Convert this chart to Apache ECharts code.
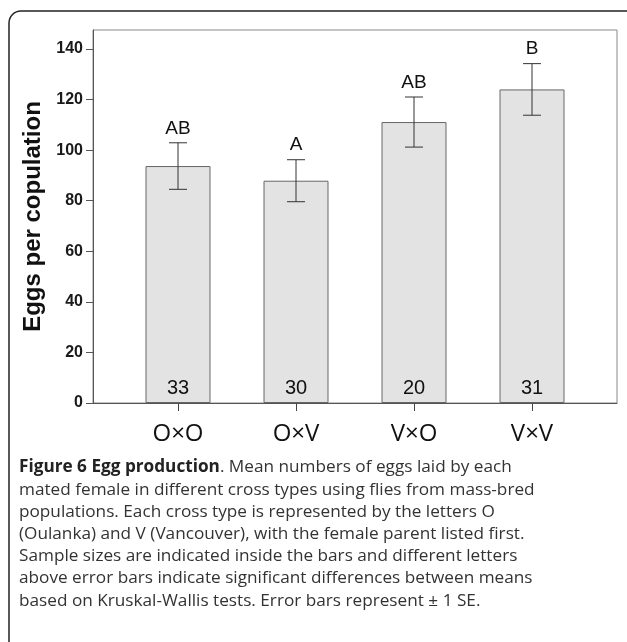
<!DOCTYPE html>
<html><head><meta charset="utf-8">
<script src="https://cdn.jsdelivr.net/npm/echarts@6/dist/echarts.min.js"></script>
<style>html,body{margin:0;padding:0;background:#fff}#c{width:627px;height:642px}</style>
</head><body><div id="c"></div>
<script>
const categories = ['O×O', 'O×V', 'V×O', 'V×V'];
const means = [93.7, 87.9, 111.1, 124.0];
const errors = [9.2, 8.3, 9.9, 10.2];
const sampleSizes = ['33', '30', '20', '31'];
const groupLetters = ['AB', 'A', 'AB', 'B'];
const yTicks = { min: 0, max: 147.5, interval: 20 };
const captionLines = [
  '{b|Figure 6 Egg production}. Mean numbers of eggs laid by each',
  'mated female in different cross types using flies from mass-bred',
  'populations. Each cross type is represented by the letters O',
  '(Oulanka) and V (Vancouver), with the female parent listed first.',
  'Sample sizes are indicated inside the bars and different letters',
  'above error bars indicate significant differences between means',
  'based on Kruskal-Wallis tests. Error bars represent ± 1 SE.'
];

const chart = echarts.init(document.getElementById('c'), null, {renderer: 'canvas'});
const errData = means.map((m, i) => [i, m - errors[i], m + errors[i], groupLetters[i]]);

const captionGraphics = captionLines.map((t, i) => ({
  type: 'text', left: 19, top: 459 + i * 22.2, silent: true,
  style: {
    text: t, fill: '#333', font: '17.2px "Open Sans"',
    rich: { b: { fontWeight: 'bold', fontFamily: 'Open Sans', fontSize: 17.2, fill: '#222' } }
  }
}));

chart.setOption({
  animation: false,
  grid: [
    { left: 93, right: 10, top: 30, bottom: 239, show: true, borderColor: '#888', borderWidth: 1, backgroundColor: 'transparent' },
    { left: 119, right: 36, top: 30, bottom: 239 }
  ],
  xAxis: [
    { gridIndex: 0, type: 'value', min: 0, max: 1, axisLine: { show: true, onZero: false, lineStyle: { color: '#555', width: 1 } },
      axisTick: { show: false }, axisLabel: { show: false }, splitLine: { show: false } },
    { gridIndex: 1, type: 'category', data: categories, axisLine: { show: false },
      axisTick: { show: true, alignWithLabel: true, length: 8, lineStyle: { color: '#444' } },
      axisLabel: { margin: 19, fontFamily: 'Open Sans', fontSize: 24, color: '#111' } }
  ],
  yAxis: [
    { gridIndex: 0, type: 'value', min: yTicks.min, max: yTicks.max, interval: yTicks.interval,
      name: 'Eggs per copulation', nameLocation: 'middle', nameGap: 46,
      nameTextStyle: { fontFamily: 'Arial', fontWeight: 'bold', fontSize: 24, color: '#111' },
      axisLine: { show: true, lineStyle: { color: '#555' } },
      axisTick: { show: true, length: 7, lineStyle: { color: '#555' } },
      axisLabel: { margin: 10, fontFamily: 'Arial', fontWeight: 'bold', fontSize: 16, color: '#1a1a1a',
        showMaxLabel: false },
      splitLine: { show: false } },
    { gridIndex: 1, type: 'value', min: yTicks.min, max: yTicks.max, interval: yTicks.interval, show: false }
  ],
  graphic: [
    { type: 'rect', shape: { x: 9, y: 11, width: 640, height: 700, r: 12 }, silent: true, z: -10,
      style: { fill: 'none', stroke: '#222', lineWidth: 1.5 } },
    ...captionGraphics
  ],
  series: [
    { type: 'bar', xAxisIndex: 1, yAxisIndex: 1, data: means, barWidth: 65,
      itemStyle: { color: '#e3e3e3', borderColor: '#666', borderWidth: 1 },
      label: { show: true, position: 'insideBottom', distance: 5, formatter: p => sampleSizes[p.dataIndex],
        fontFamily: 'Arial', fontSize: 20, color: '#111' } },
    { type: 'custom', xAxisIndex: 1, yAxisIndex: 1, data: errData, z: 5,
      renderItem: (params, api) => {
        const x = api.coord([api.value(0), 0])[0];
        const lo = api.coord([api.value(0), api.value(1)])[1];
        const hi = api.coord([api.value(0), api.value(2)])[1];
        const hw = 9;
        const ls = { stroke: '#333', lineWidth: 1 };
        return { type: 'group', children: [
          { type: 'line', shape: { x1: x, y1: lo, x2: x, y2: hi }, style: ls },
          { type: 'line', shape: { x1: x - hw, y1: hi, x2: x + hw, y2: hi }, style: ls },
          { type: 'line', shape: { x1: x - hw, y1: lo, x2: x + hw, y2: lo }, style: ls },
          { type: 'text', x: x, y: hi - 5, style: { text: groupLetters[params.dataIndex], x: 0, y: 0,
              textAlign: 'center', textVerticalAlign: 'bottom', font: '19px Arial', fill: '#111' } }
        ]};
      } }
  ]
});
</script></body></html>
